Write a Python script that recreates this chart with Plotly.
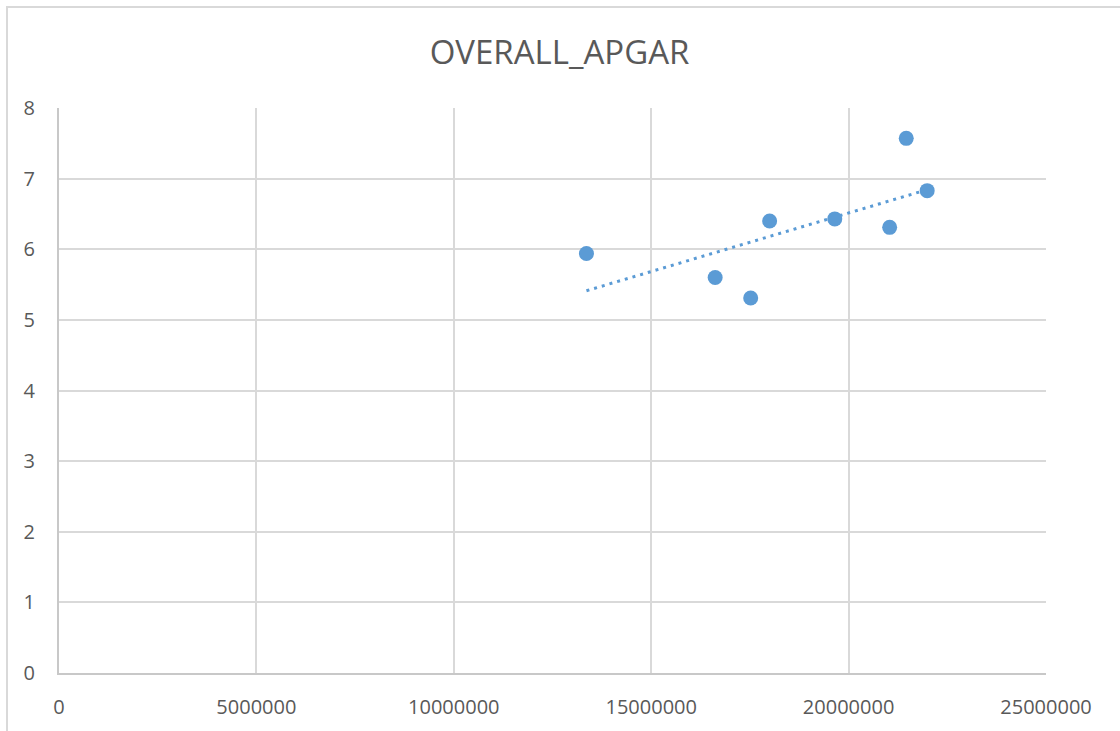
import numpy as np
import plotly.graph_objects as go

# Population-style x values and the overall APGAR score per group
x_values = [13360000, 16620000, 17520000, 18000000, 19650000, 21040000, 21460000, 21990000]
apgar = [5.94, 5.60, 5.31, 6.40, 6.43, 6.31, 7.57, 6.83]

x_ticks = [0, 5000000, 10000000, 15000000, 20000000, 25000000]
y_ticks = [0, 1, 2, 3, 4, 5, 6, 7, 8]

BLUE = "#5B9BD5"
TEXT = "#595959"
GRID = "#D9D9D9"
AXIS = "#C8C8C8"
FONT = "Open Sans"

# Linear least-squares trendline across the observed x range
slope, intercept = np.polyfit(x_values, apgar, 1)
trend_x = [min(x_values), max(x_values)]
trend_y = [slope * v + intercept for v in trend_x]

fig = go.Figure()
fig.add_trace(go.Scatter(
    x=trend_x, y=trend_y, mode="lines",
    line=dict(color=BLUE, width=3, dash="3px,5px"),
    hoverinfo="skip", showlegend=False,
))
fig.add_trace(go.Scatter(
    x=x_values, y=apgar, mode="markers",
    marker=dict(color=BLUE, size=15, line=dict(width=0)),
    showlegend=False,
))

W, H = 1120, 731
L, R, T, B = 59, 74, 108, 58
pw, ph = W - L - R, H - T - B


def px_to_paper_x(px):
    return (px - L) / pw


def px_to_paper_y(py):
    return (H - B - py) / ph


fig.update_layout(
    width=W, height=H,
    margin=dict(l=L, r=R, t=T, b=B),
    paper_bgcolor="white", plot_bgcolor="white",
    font=dict(family=FONT, color=TEXT, size=20),
    title=dict(
        text="OVERALL_APGAR",
        font=dict(family=FONT, size=33, color=TEXT),
        x=568 / W, xanchor="center", xref="paper",
        y=1 - 52 / H, yanchor="middle", yref="container",
    ),
    xaxis=dict(
        range=[0, 25000000], tickvals=x_ticks, tickformat="d",
        showgrid=True, gridcolor=GRID, gridwidth=2,
        showline=True, linecolor=AXIS, linewidth=2,
        zeroline=False, ticks="", ticklabelstandoff=15,
        tickfont=dict(size=20, color=TEXT, family=FONT),
    ),
    yaxis=dict(
        range=[0, 8], tickvals=y_ticks,
        showgrid=True, gridcolor=GRID, gridwidth=2,
        showline=True, linecolor=AXIS, linewidth=2,
        zeroline=False, ticks="", ticklabelstandoff=18,
        tickfont=dict(size=20, color=TEXT, family=FONT),
    ),
    shapes=[dict(
        type="rect", xref="paper", yref="paper",
        x0=px_to_paper_x(7), x1=px_to_paper_x(1130),
        y0=px_to_paper_y(745), y1=px_to_paper_y(7),
        line=dict(color=GRID, width=2), fillcolor="rgba(0,0,0,0)",
        layer="below",
    )],
)

fig.write_html("out.html")
